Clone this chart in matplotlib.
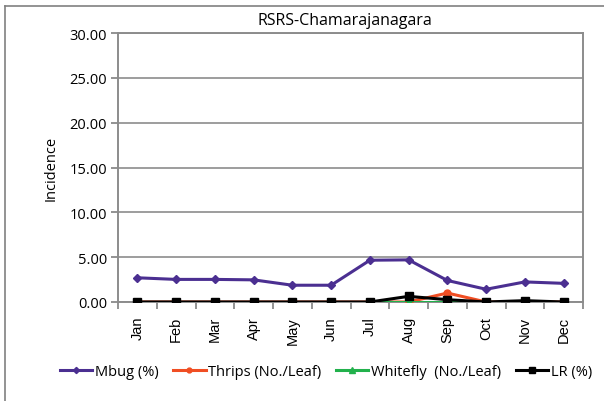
import matplotlib
matplotlib.use("Agg")
import matplotlib.pyplot as plt
from matplotlib.lines import Line2D
import numpy as np

plt.rcParams['font.family'] = ['Open Sans', 'DejaVu Sans']

months = ["Jan", "Feb", "Mar", "Apr", "May", "Jun",
          "Jul", "Aug", "Sep", "Oct", "Nov", "Dec"]
mbug = [2.70, 2.52, 2.52, 2.47, 1.87, 1.87, 4.66, 4.70, 2.40, 1.42, 2.24, 2.08]
thrips = [0, 0, 0, 0, 0, 0, 0, 0, 1.00, 0, 0, 0]
whitefly = [0, 0, 0, 0, 0, 0, 0, 0, 0, 0, 0, 0]
lr = [0, 0, 0, 0, 0, 0, 0, 0.63, 0.26, 0, 0.15, 0]
yticks = [0, 5, 10, 15, 20, 25, 30]

fig = plt.figure(figsize=(6.04, 4.02), dpi=100)

# outer chart frame (only top and left visible)
fig.add_artist(Line2D([5/604, 1], [1 - 7/402, 1 - 7/402], color="#808080", lw=1.2))
fig.add_artist(Line2D([5/604, 5/604], [0, 1 - 7/402], color="#808080", lw=1.2))

ax = fig.add_axes([118/604, 1 - 303/402, 465/604, 269/402])
x = np.arange(len(months))

ax.plot(x, mbug, color="#4B2F91", lw=2.2, marker="D", ms=4.5, label="Mbug (%)", zorder=3)
ax.plot(x, thrips, color="#F04E23", lw=2.2, marker="o", ms=5, label="Thrips (No./Leaf)", zorder=3)
ax.plot(x, whitefly, color="#22B14C", lw=2.2, marker="^", ms=6, label="Whitefly  (No./Leaf)", zorder=3)
ax.plot(x, lr, color="#000000", lw=2.2, marker="s", ms=5.5, label="LR (%)", zorder=4)

ax.set_xlim(-0.5, 11.5)
ax.set_ylim(0, 30)
ax.set_yticks(yticks)
ax.set_yticklabels(["%.2f" % v for v in yticks], fontsize=10.5)
ax.yaxis.grid(True, color="#8c8c8c", lw=1.2)
ax.set_axisbelow(True)

ax.set_xticks(x)
ax.set_xticklabels(months, rotation=90, fontsize=10.5, family=["Liberation Sans"])
ax.set_xticks(np.arange(-0.5, 12, 1), minor=True)
ax.tick_params(axis="x", which="major", length=0, pad=10)
ax.tick_params(axis="x", which="minor", length=5, color="#808080", width=1.2)
ax.tick_params(axis="y", length=5, color="#808080", width=1.2, pad=3)

for s in ax.spines.values():
    s.set_color("#8c8c8c")
    s.set_linewidth(1.4)

ax.set_ylabel("Incidence", fontsize=10.5, labelpad=8)
fig.text(345/604, 1 - 21/402, "RSRS-Chamarajanagara", fontsize=11.5,
         ha="center", va="center")

fig.legend(loc="center", bbox_to_anchor=(0.54, 1 - 373/402), ncol=4, frameon=False,
           fontsize=10.5, handlelength=2.2, handletextpad=0.2, columnspacing=1.0,
           markerscale=0.7)

fig.savefig("out.png", dpi=100)
